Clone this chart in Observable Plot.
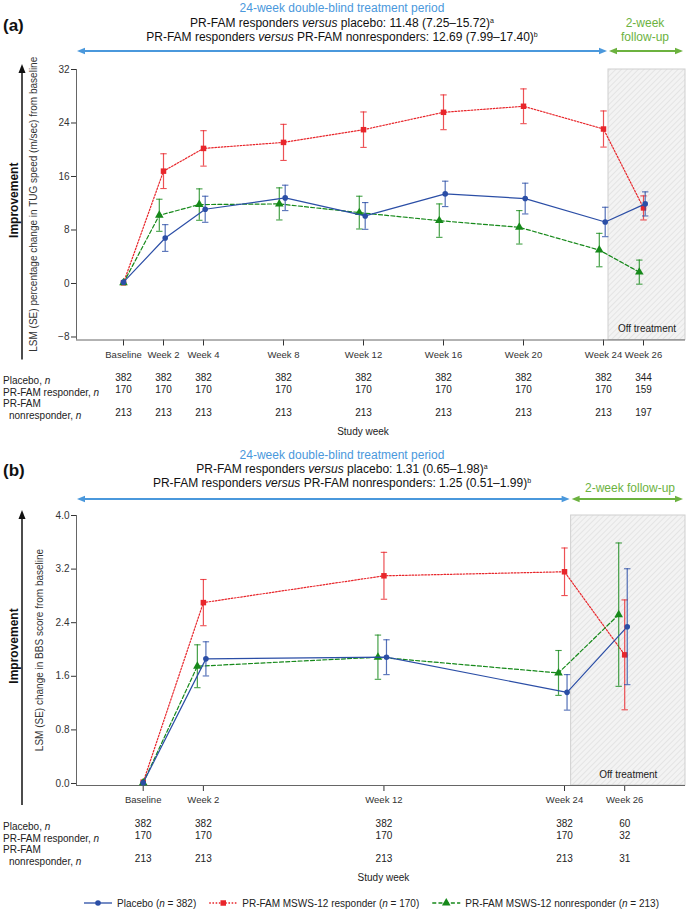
<!DOCTYPE html>
<html><head><meta charset="utf-8">
<script src="https://cdn.jsdelivr.net/npm/d3@7"></script>
<script src="https://cdn.jsdelivr.net/npm/@observablehq/plot@0.6"></script>
<style>
body{margin:0;background:#fff;font-family:"Liberation Sans",Arial,sans-serif;}
#chart svg{display:block;}
</style></head><body><div id="chart"></div>
<script>
// ---------- Panel (a): TUG speed, % change ----------
const weeksA = [0, 2, 4, 8, 12, 16, 20, 24, 26];
const labelsA = ["Baseline","Week 2","Week 4","Week 8","Week 12","Week 16","Week 20","Week 24","Week 26"];
const placeboA      = [0.2, 6.8, 11.1, 12.8, 10.1, 13.4, 12.7, 9.2, 11.9];
const placeboSeA    = [0, 2.0, 1.95, 1.9, 2.0, 1.9, 2.3, 2.2, 1.8];
const responderA    = [0.1, 16.8, 20.2, 21.1, 23.0, 25.6, 26.5, 23.1, 11.3];
const responderSeA  = [0, 2.6, 2.65, 2.7, 2.65, 2.6, 2.6, 2.7, 1.8];
const nonresponderA = [0.1, 10.2, 11.8, 11.9, 10.6, 9.4, 8.4, 5.0, 1.7];
const nonresponderSeA = [0, 2.4, 2.35, 2.4, 2.45, 2.5, 2.5, 2.5, 1.8];
const nPlaceboA      = [382, 382, 382, 382, 382, 382, 382, 382, 344];
const nResponderA    = [170, 170, 170, 170, 170, 170, 170, 170, 159];
const nNonresponderA = [213, 213, 213, 213, 213, 213, 213, 213, 197];
const yTicksA = [-8, 0, 8, 16, 24, 32];

// ---------- Panel (b): BBS score change ----------
const weeksB = [0, 2, 12, 24, 26];
const labelsB = ["Baseline","Week 2","Week 12","Week 24","Week 26"];
const placeboB      = [0.01, 1.86, 1.885, 1.36, 2.34];
const placeboSeB    = [0, 0.255, 0.26, 0.265, 0.865];
const responderB    = [0.02, 2.70, 3.10, 3.16, 1.92];
const responderSeB  = [0, 0.345, 0.35, 0.355, 0.82];
const nonresponderB = [0.01, 1.75, 1.885, 1.65, 2.52];
const nonresponderSeB = [0, 0.32, 0.33, 0.335, 1.07];
const nPlaceboB      = [382, 382, 382, 382, 60];
const nResponderB    = [170, 170, 170, 170, 32];
const nNonresponderB = [213, 213, 213, 213, 31];
const yTicksB = [0, 0.8, 1.6, 2.4, 3.2, 4.0];

const seriesNames = ["PR-FAM MSWS-12 responder", "PR-FAM MSWS-12 nonresponder", "Placebo"];
const rowLabels = ["Placebo, ", "PR-FAM responder, ", "PR-FAM", "nonresponder, "];

// ---------- styling ----------
const FONT = '"Liberation Sans", Arial, sans-serif';
const styles = {
  "PR-FAM MSWS-12 responder":    {color: "#e8262b", dash: "1.6,1.6", symbol: "square",   r: 3.1},
  "PR-FAM MSWS-12 nonresponder": {color: "#16891a", dash: "4,2.2",   symbol: "triangle", r: 3.2},
  "Placebo":                     {color: "#2b4ea6", dash: null,      symbol: "circle",   r: 2.8}
};
const BLUE = "#4a98dc", GREEN = "#6cb23f";

const cap = {draw(ctx, size) { const w = Math.sqrt(size / Math.PI); ctx.moveTo(-w, 0); ctx.lineTo(w, 0); }};

function buildRows(xs, vals, ses, ns, name, dodge) {
  return xs.map((x, i) => ({
    series: name, xv: x + (i === 0 ? 0 : dodge), xt: x, y: vals[i],
    lo: vals[i] - ses[i], hi: vals[i] + ses[i], se: ses[i], n: ns[i]
  }));
}

function panel(cfg) {
  const {xs, labels, series, yTicks, yDomain, xDomain, offStart, height, marginTop, marginBottom, tickFmt} = cfg;
  const marks = [];
  const [xmin, xmax] = xDomain;
  marks.push(Plot.rect([0], {x1: offStart, x2: xmax, y1: yDomain[0], y2: yDomain[1], fill: "url(#hatch" + cfg.id + ")", stroke: "#cfcfcf", strokeWidth: 1}));
  marks.push(Plot.text(["Off treatment"], {x: (offStart + xmax) / 2, text: d => d, frameAnchor: "bottom", dy: -8, fontSize: 10, fill: "#222"}));
  marks.push(Plot.ruleY([yDomain[0]], {stroke: "#666"}));
  marks.push(Plot.ruleX([xmin], {stroke: "#666"}));
  for (const rows of series) {
    const s = styles[rows[0].series];
    const withSe = rows.filter(d => d.se > 0);
    marks.push(Plot.line(rows, {x: "xv", y: "y", stroke: s.color, strokeWidth: 1.2, strokeDasharray: s.dash}));
    marks.push(Plot.ruleX(withSe, {x: "xv", y1: "lo", y2: "hi", stroke: s.color, strokeWidth: 1.2, strokeOpacity: 0.8}));
    marks.push(Plot.dot(withSe, {x: "xv", y: "lo", symbol: cap, r: 3.2, stroke: s.color, fill: "none", strokeWidth: 1.1, strokeOpacity: 0.8}));
    marks.push(Plot.dot(withSe, {x: "xv", y: "hi", symbol: cap, r: 3.2, stroke: s.color, fill: "none", strokeWidth: 1.1, strokeOpacity: 0.8}));
    marks.push(Plot.dot(rows, {x: "xv", y: "y", symbol: s.symbol, r: s.r, fill: s.color, stroke: "none"}));
  }
  // n-at-risk table rows
  const tableDy = [41, 53, 76];
  const order = ["Placebo", "PR-FAM MSWS-12 responder", "PR-FAM MSWS-12 nonresponder"];
  order.forEach((name, k) => {
    const rows = series.find(r => r[0].series === name);
    marks.push(Plot.text(rows, {x: "xt", text: "n", frameAnchor: "bottom", dy: tableDy[k], fontSize: 10, fill: "#222"}));
  });
  const plot = Plot.plot({
    width: 694, height, marginLeft: 76, marginRight: 9, marginTop, marginBottom,
    style: {fontFamily: FONT, fontSize: "10px", color: "#333", background: "#fff", overflow: "visible"},
    x: {domain: xDomain, ticks: xs, tickFormat: d => labels[xs.indexOf(d)], tickSize: 6, tickPadding: 5, label: null},
    y: {domain: yDomain, ticks: yTicks, tickFormat: tickFmt, tickSize: 5, tickPadding: 2, label: null},
    marks
  });
  document.getElementById("chart").append(plot);
  const svg = d3.select(plot);
  svg.selectAll('[aria-label="x-axis tick label"] text').attr("font-size", 9.5);
  const sx = plot.scale("x");
  // hatch pattern
  const defs = svg.insert("defs", ":first-child");
  const pat = defs.append("pattern").attr("id", "hatch" + cfg.id).attr("patternUnits", "userSpaceOnUse")
    .attr("width", 4).attr("height", 4).attr("patternTransform", "rotate(45)");
  pat.append("rect").attr("width", 4).attr("height", 4).attr("fill", "#f3f3f3");
  pat.append("line").attr("x1", 0).attr("y1", 0).attr("x2", 0).attr("y2", 4).attr("stroke", "#d6d6d6").attr("stroke-width", 1);
  const g = svg.append("g").attr("font-family", FONT).attr("text-anchor", "start");
  const frameBottom = height - marginBottom, frameTop = marginTop;
  // row labels
  const labelDy = [41, 53, 64, 76];
  rowLabels.forEach((t, k) => {
    const tx = g.append("text").attr("x", k === 3 ? 9 : 3).attr("y", frameBottom + labelDy[k]).attr("dy", "0.35em")
      .attr("text-anchor", "start").attr("font-size", 10).attr("fill", "#222").text(t);
    if (k !== 2) tx.append("tspan").attr("font-style", "italic").text("n");
  });
  g.append("text").attr("x", sx.apply(cfg.studyWeekX)).attr("y", frameBottom + 92).attr("dy", "0.35em")
    .attr("text-anchor", "middle").attr("font-size", 10).attr("fill", "#222").text("Study week");
  // y-axis title & improvement arrow
  const yMid = (frameTop + frameBottom) / 2;
  g.append("text").attr("transform", `translate(${cfg.yTitleX},${yMid}) rotate(-90)`).attr("text-anchor", "middle")
    .attr("dy", "0.35em").attr("font-size", 10).attr("fill", "#333").text(cfg.yTitle);
  g.append("text").attr("transform", `translate(14,${yMid - 4}) rotate(-90)`).attr("text-anchor", "middle")
    .attr("dy", "0.35em").attr("font-size", 12).attr("font-weight", "bold").attr("fill", "#111").text("Improvement");
  g.append("line").attr("x1", 22).attr("x2", 22).attr("y1", frameTop + 2).attr("y2", frameBottom + 20).attr("stroke", "#111").attr("stroke-width", 1.5);
  g.append("path").attr("d", `M22,${frameTop - 5}L18.5,${frameTop + 4}L25.5,${frameTop + 4}Z`).attr("fill", "#111");
  // header
  const xl = sx.apply(xmin), xr = sx.apply(xmax), xo = sx.apply(offStart);
  const aY = frameTop + cfg.arrowOff;
  arrow(g, xl + 1, xo - 1, aY, BLUE);
  arrow(g, xo + 1, xr - 2, aY, GREEN);
  g.append("text").attr("x", 3).attr("y", cfg.tagY).attr("text-anchor", "start").attr("font-size", 17).attr("font-weight", "bold").attr("fill", "#111").text(cfg.tag);
  g.append("text").attr("x", 342).attr("y", cfg.headY[0]).attr("text-anchor", "middle").attr("font-size", 12).attr("fill", BLUE)
    .text("24-week double-blind treatment period");
  cfg.headLines.forEach((hl, k) => {
    const t = g.append("text").attr("x", 342).attr("y", cfg.headY[k + 1]).attr("text-anchor", "middle").attr("font-size", 12).attr("fill", "#111");
    t.append("tspan").text("PR-FAM responders ");
    t.append("tspan").attr("font-style", "italic").text("versus");
    t.append("tspan").text(hl[0]);
    t.append("tspan").attr("font-size", 7).attr("dy", -4).text(hl[1]);
  });
  cfg.follow.forEach(([t, x, y]) => {
    g.append("text").attr("x", x).attr("y", y).attr("text-anchor", "middle").attr("font-size", 12).attr("fill", GREEN).text(t);
  });
  return {plot, g};
}

function arrow(g, x1, x2, y, color) {
  const hl = 8, hw = 3.3;
  g.append("line").attr("x1", x1 + hl - 1).attr("x2", x2 - hl + 1).attr("y1", y).attr("y2", y).attr("stroke", color).attr("stroke-width", 1.8);
  g.append("path").attr("d", `M${x1},${y}L${x1 + hl},${y - hw}L${x1 + hl},${y + hw}Z`).attr("fill", color);
  g.append("path").attr("d", `M${x2},${y}L${x2 - hl},${y - hw}L${x2 - hl},${y + hw}Z`).attr("fill", color);
}

// ---------- build panel (a) ----------
const seriesA = [
  buildRows(weeksA, responderA, responderSeA, nResponderA, seriesNames[0], 0),
  buildRows(weeksA, nonresponderA, nonresponderSeA, nNonresponderA, seriesNames[1], -0.21),
  buildRows(weeksA, placeboA, placeboSeA, nPlaceboA, seriesNames[2], 0.085)
];
const A = panel({
  id: "a", xs: weeksA, labels: labelsA, series: seriesA, yTicks: yTicksA,
  yDomain: [-8.45, 32], xDomain: [-2.35, 28.1], offStart: 24.25,
  height: 440, marginTop: 69, marginBottom: 100.5,
  tickFmt: d => d < 0 ? "\u2212" + Math.abs(d) : String(d),
  studyWeekX: 12, yTitleX: 33,
  yTitle: "LSM (SE) percentage change in TUG speed (m/sec) from baseline",
  arrowOff: -18, tag: "(a)", tagY: 31, headY: [12, 26.5, 40.5],
  headLines: [[" placebo: 11.48 (7.25\u201315.72)", "a"], [" PR-FAM nonresponders: 12.69 (7.99\u201317.40)", "b"]],
  follow: [["2-week", 645, 27], ["follow-up", 645, 41]]
});

// ---------- build panel (b) : uneven visual spacing of visits ----------
const slotOf = {0: 0, 2: 1, 12: 4, 24: 7, 26: 8};
const slotsB = weeksB.map(w => slotOf[w]);
const seriesB = [
  buildRows(slotsB, responderB, responderSeB, nResponderB, seriesNames[0], 0),
  buildRows(slotsB, nonresponderB, nonresponderSeB, nNonresponderB, seriesNames[1], -0.1),
  buildRows(slotsB, placeboB, placeboSeB, nPlaceboB, seriesNames[2], 0.042)
];
const B = panel({
  id: "b", xs: slotsB, labels: labelsB, series: seriesB, yTicks: yTicksB,
  yDomain: [-0.03, 4.0], xDomain: [-1.108, 9.01], offStart: 7.11,
  height: 470, marginTop: 75, marginBottom: 125,
  tickFmt: d => d.toFixed(1),
  studyWeekX: 4, yTitleX: 39,
  yTitle: "LSM (SE) change in BBS score from baseline",
  arrowOff: -16, tag: "(b)", tagY: 36, headY: [19, 33, 47],
  headLines: [[" placebo: 1.31 (0.65\u20131.98)", "a"], [" PR-FAM nonresponders: 1.25 (0.51\u20131.99)", "b"]],
  follow: [["2-week follow-up", 630, 52]]
});

// ---------- legend (bottom of panel b) ----------
(function legend() {
  const g = B.g.append("g");
  const ly = 463;
  let x = 84;
  const items = [["Placebo", 382], ["PR-FAM MSWS-12 responder", 170], ["PR-FAM MSWS-12 nonresponder", 213]];
  items.forEach(([name, n]) => {
    const s = styles[name];
    const len = 28;
    g.append("line").attr("x1", x).attr("x2", x + len).attr("y1", ly).attr("y2", ly).attr("stroke", s.color)
      .attr("stroke-width", 1.3).attr("stroke-dasharray", s.dash);
    const sym = {circle: d3.symbolCircle, square: d3.symbolSquare, triangle: d3.symbolTriangle}[s.symbol];
    g.append("path").attr("transform", `translate(${x + len / 2},${ly})`).attr("d", d3.symbol(sym, Math.PI * s.r * s.r)()).attr("fill", s.color);
    const t = g.append("text").attr("x", x + len + 5).attr("y", ly).attr("dy", "0.35em").attr("text-anchor", "start")
      .attr("font-size", 10).attr("fill", "#222");
    t.append("tspan").text(name + " (");
    t.append("tspan").attr("font-style", "italic").text("n");
    t.append("tspan").text(" = " + n + ")");
    x = x + len + 5 + t.node().getComputedTextLength() + 13;
  });
})();
</script></body></html>
